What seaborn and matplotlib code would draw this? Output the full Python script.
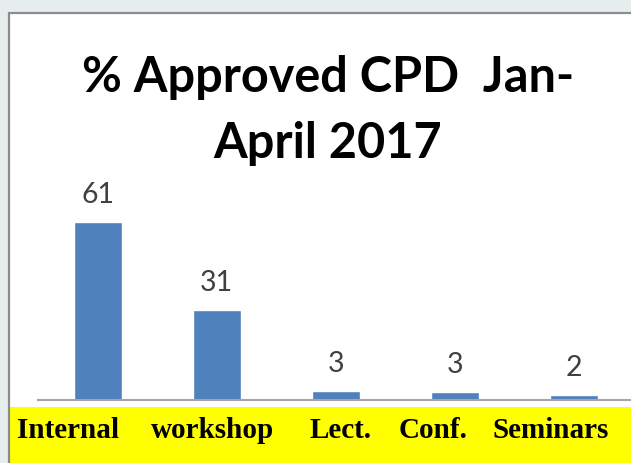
import pandas as pd
import seaborn as sns
import matplotlib.pyplot as plt
from matplotlib.patches import Rectangle
from matplotlib.lines import Line2D

# data
categories = ["Internal", "workshop", "Lect.", "Conf.", "Seminars"]
values = [61, 31, 3.2, 2.7, 1.6]
value_labels = ["61", "31", "3", "3", "2"]
title = "% Approved CPD  Jan-\nApril 2017"

# where the yellow-band labels sit (pixels from the left)
label_x_px = [68.5, 212.5, 340.5, 433.5, 550.5]

W, H = 631, 463
df = pd.DataFrame({"cat": categories, "val": values})

sns.set_style("white")
fig = plt.figure(figsize=(W / 100, H / 100), dpi=100, facecolor="#E5EEED")

# white slide panel with grey frame on the left and top
fig.patches.append(Rectangle((9 / W, 0), 1, (H - 13) / H, transform=fig.transFigure,
                             facecolor="white", edgecolor="none", zorder=0))
fig.lines.append(Line2D([9 / W, 9 / W], [0, (H - 13) / H], transform=fig.transFigure,
                        color="#8C8C8C", lw=1.6))
fig.lines.append(Line2D([9 / W, 1], [(H - 13) / H, (H - 13) / H], transform=fig.transFigure,
                        color="#8C8C8C", lw=1.6))

# yellow band under the axis
fig.patches.append(Rectangle((10 / W, 0), 1, (H - 407) / H, transform=fig.transFigure,
                             facecolor="#FFFF00", edgecolor="none", zorder=1))

ax = fig.add_axes([38.3 / W, (H - 400) / H, 595 / W, 204 / H])
ax.set_zorder(3)
ax.set_facecolor("none")
sns.barplot(data=df, x="cat", y="val", color="#4F81BD", width=0.4, saturation=1, ax=ax)
ax.set_xlim(-0.5, 4.5)
ax.set_ylim(0, 70)
ax.set_xlabel("")
ax.set_ylabel("")
ax.set_xticks([])
ax.set_yticks([])
for s in ["left", "right", "top"]:
    ax.spines[s].set_visible(False)
ax.spines["bottom"].set_color("#A6A6A6")
ax.spines["bottom"].set_linewidth(1.5)

ax.bar_label(ax.containers[0], labels=value_labels, padding=10, fontsize=20.5,
             color="#404040", family="Lato")

fig.text(328 / W, (H - 158) / H, title, ha="center", va="baseline", fontsize=35,
         fontweight="bold", family="Lato", linespacing=1.58, color="black", zorder=4)

for name, xp in zip(categories, label_x_px):
    fig.text(xp / W, (H - 438) / H, name, ha="center", va="baseline", fontsize=21,
             fontweight="bold", family="Liberation Serif", color="black", zorder=4)

fig.savefig("out.png", dpi=100, facecolor=fig.get_facecolor())
